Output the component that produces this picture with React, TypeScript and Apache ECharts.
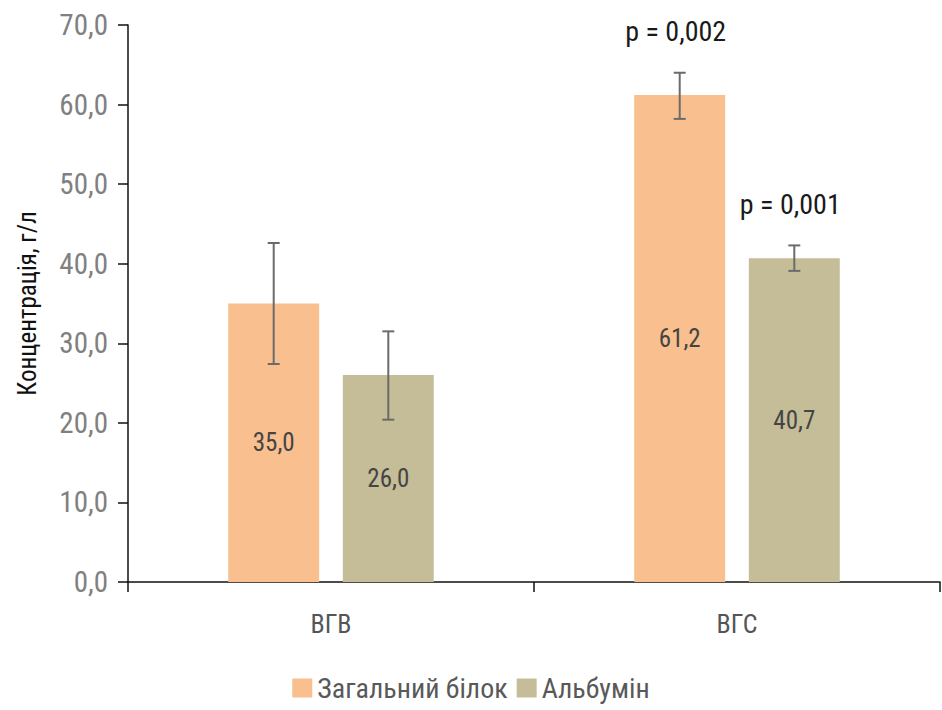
import React, { useEffect, useRef } from "react";
import * as echarts from "echarts";

const categories = ["ВГВ", "ВГС"];
const seriesNames = ["Загальний білок", "Альбумін"];
const totalProtein = [35.0, 61.2];
const albumin = [26.0, 40.7];
const totalProteinLow = [27.4, 58.2];
const totalProteinHigh = [42.6, 64.0];
const albuminLow = [20.4, 39.1];
const albuminHigh = [31.5, 42.3];
const totalProteinP = ["", "p = 0,002"];
const albuminP = ["", "p = 0,001"];
const yTicks = [0, 10, 20, 30, 40, 50, 60, 70];

const FONT = "Roboto Condensed";
const COLORS = ["#F9BF8F", "#C4BD97"];
const BAR_RATIO = 0.224;
const GAP_RATIO = 0.26;

function errorSeries(idx: number, low: number[], high: number[], pLabels: string[]) {
  const sign = idx === 0 ? -1 : 1;
  return {
    type: "custom",
    name: "err" + idx,
    z: 10,
    silent: true,
    data: categories.map((c, i) => [i, low[i], high[i]]),
    encode: { x: 0, y: [1, 2] },
    renderItem: (params: any, api: any) => {
      const xi = api.value(0);
      const lo = api.coord([xi, api.value(1)]);
      const hi = api.coord([xi, api.value(2)]);
      const band = api.size([1, 0])[0];
      const bw = band * BAR_RATIO;
      const off = sign * (bw * (1 + GAP_RATIO)) / 2;
      const x = lo[0] + off;
      const cap = 6;
      const style = { stroke: "#6b6b6b", lineWidth: 2 };
      const children: any[] = [
        { type: "line", shape: { x1: x, y1: lo[1], x2: x, y2: hi[1] }, style },
        { type: "line", shape: { x1: x - cap, y1: lo[1], x2: x + cap, y2: lo[1] }, style },
        { type: "line", shape: { x1: x - cap, y1: hi[1], x2: x + cap, y2: hi[1] }, style },
      ];
      const label = pLabels[params.dataIndex];
      if (label) {
        children.push({
          type: "text",
          x: x - 4,
          y: hi[1] - 41,
          style: {
            text: label,
            fill: "#1a1a1a",
            fontFamily: FONT,
            fontSize: 28,
            align: "center",
            verticalAlign: "middle",
          },
        });
      }
      return { type: "group", children };
    },
  };
}

export default function App() {
  const ref = useRef<HTMLDivElement>(null);
  useEffect(() => {
    if (!ref.current) return;
    const chart = echarts.init(ref.current, null, { renderer: "svg" });
    const fmt = (v: number) => v.toFixed(1).replace(".", ",");
    const barLabel = {
      show: true,
      position: "inside",
      formatter: (p: any) => fmt(p.value),
      fontSize: 25,
      color: "#444",
      fontFamily: FONT,
    };
    chart.setOption({
      animation: false,
      color: COLORS,
      textStyle: { fontFamily: FONT },
      grid: { left: 128, right: 2, top: 25, bottom: 128, containLabel: false },
      legend: {
        data: seriesNames,
        top: 674,
        left: "center",
        itemWidth: 20,
        itemHeight: 19,
        itemGap: 9,
        icon: "rect",
        padding: 0,
        textStyle: { fontSize: 28, color: "#595959", fontFamily: FONT },
      },
      xAxis: {
        type: "category",
        data: categories,
        axisLine: { lineStyle: { color: "#111", width: 1.5 } },
        axisTick: { show: true, length: 10, lineStyle: { color: "#111", width: 1.5 } },
        axisLabel: { fontSize: 26, color: "#555", margin: 29, fontFamily: FONT },
      },
      yAxis: {
        type: "value",
        min: 0,
        max: 70,
        interval: 10,
        name: "Концентрація, г/л",
        nameLocation: "middle",
        nameGap: 88,
        nameTextStyle: { fontSize: 25, color: "#111", fontFamily: FONT },
        axisLine: { show: true, lineStyle: { color: "#111", width: 1.5 } },
        axisTick: { show: true, length: 10, lineStyle: { color: "#111", width: 1.5 } },
        splitLine: { show: false },
        axisLabel: {
          fontSize: 29,
          color: "#808080",
          margin: 20,
          fontFamily: FONT,
          formatter: (v: number) => (yTicks.includes(v) ? fmt(v) : ""),
        },
      },
      series: [
        {
          type: "bar",
          name: seriesNames[0],
          data: totalProtein,
          barWidth: BAR_RATIO * 100 + "%",
          barGap: GAP_RATIO * 100 + "%",
          itemStyle: { color: COLORS[0] },
          label: barLabel,
        },
        {
          type: "bar",
          name: seriesNames[1],
          data: albumin,
          barWidth: BAR_RATIO * 100 + "%",
          barGap: GAP_RATIO * 100 + "%",
          itemStyle: { color: COLORS[1] },
          label: barLabel,
        },
        errorSeries(0, totalProteinLow, totalProteinHigh, totalProteinP),
        errorSeries(1, albuminLow, albuminHigh, albuminP),
      ],
    });
    return () => chart.dispose();
  }, []);
  return (
    <div
      ref={ref}
      style={{ position: "absolute", left: 0, top: 0, width: 942, height: 710 }}
    />
  );
}
